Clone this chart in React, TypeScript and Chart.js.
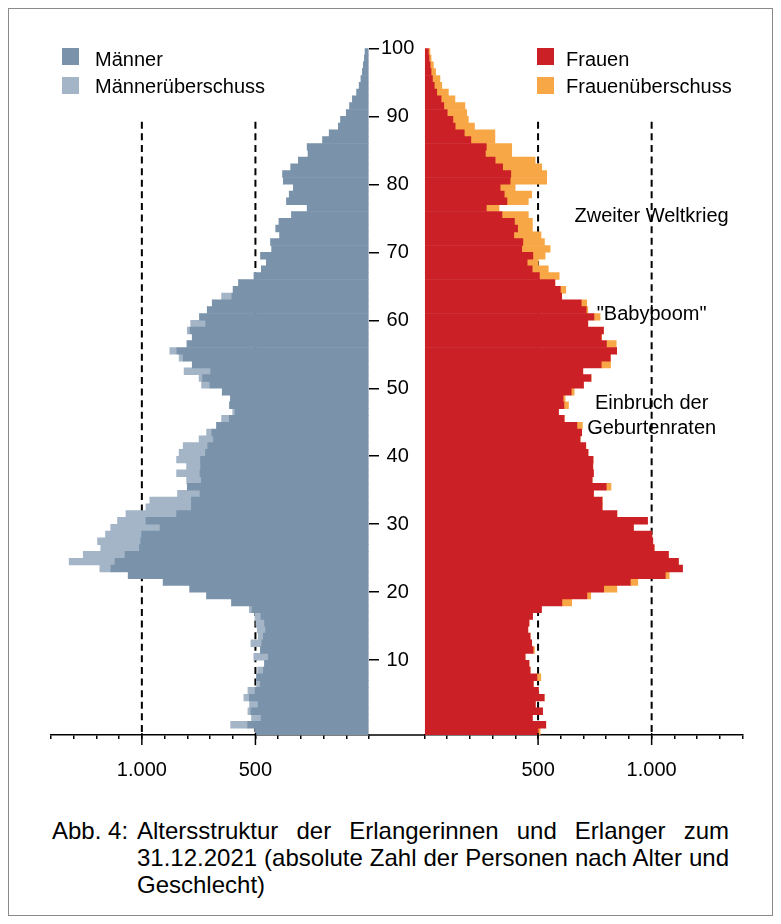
import React, { useEffect, useRef } from 'react';
import { Chart, registerables } from 'chart.js';

Chart.register(...registerables);

const FONT = '"Liberation Sans", Arial, Helvetica, sans-serif';

// Ages 0..100 (index = age)
const ages: number[] = Array.from({ length: 101 }, (_, i) => i);

// Total number of men per age (0..100)
const men: number[] = [
  500, 609, 517, 533, 526, 551, 533, 495, 495, 490,
  460, 507, 478, 520, 487, 492, 498, 502, 527, 605,
  715, 789, 906, 1060, 1185, 1320, 1258, 1181, 1195, 1160,
  1137, 1107, 1070, 982, 965, 843, 800, 803, 847, 803,
  847, 836, 818, 748, 715, 671, 649, 600, 614, 610,
  646, 737, 748, 814, 778, 836, 877, 801, 778, 800,
  785, 746, 712, 690, 649, 598, 575, 506, 474, 452,
  477, 428, 433, 393, 410, 396, 341, 272, 363, 351,
  333, 377, 380, 344, 311, 268, 272, 204, 175, 135,
  125, 100, 85, 73, 54, 43, 35, 29, 25, 20,
  17,
];

// Total number of women per age (0..100)
const women: number[] = [
  509, 534, 475, 520, 488, 527, 502, 479, 512, 465,
  460, 443, 484, 472, 465, 455, 460, 476, 515, 648,
  732, 847, 939, 1077, 1136, 1118, 1074, 1011, 1005, 1001,
  920, 982, 847, 782, 782, 744, 821, 738, 744, 741,
  742, 720, 710, 685, 692, 695, 615, 590, 634, 619,
  659, 700, 733, 697, 819, 818, 846, 844, 780, 788,
  719, 773, 719, 714, 604, 622, 574, 593, 545, 501,
  531, 553, 528, 513, 475, 475, 457, 328, 457, 472,
  399, 538, 538, 516, 487, 384, 384, 310, 310, 220,
  193, 186, 178, 134, 105, 76, 68, 49, 39, 29,
  24,
];

const ageTicks: number[] = [10, 20, 30, 40, 50, 60, 70, 80, 90, 100];
const xTicks: number[] = [0, 100, 200, 300, 400, 500, 600, 700, 800, 900, 1000, 1100, 1200, 1300, 1400];
const xMajor: number[] = [500, 1000];
const xMajorLabels: string[] = ['500', '1.000'];

const annotationTexts: string[] = ['Zweiter Weltkrieg', '"Babyboom"', 'Einbruch der', 'Geburtenraten'];
const annotationAges: number[] = [75.3, 60.9, 47.7, 44.1];
const annotationValue = 1000;
const gridTopAge = 89.2;

const MEN = '#7a93ab';
const MEN_X = '#a3b5c6';
const WOMEN = '#cc2027';
const WOMEN_X = '#f8a746';

const common = ages.map((a) => Math.min(men[a], women[a]));
const menExcess = ages.map((a) => Math.max(0, men[a] - women[a]));
const womenExcess = ages.map((a) => Math.max(0, women[a] - men[a]));

const tickLabel = (v: number) => {
  const i = xMajor.indexOf(v);
  return i >= 0 ? xMajorLabels[i] : '';
};

const decor = (side: 'left' | 'right') => ({
  id: 'decor-' + side,
  beforeDatasetsDraw(chart: any) {
    const { ctx, scales, chartArea } = chart;
    const x = scales.x;
    const y = scales.y;
    ctx.save();
    ctx.strokeStyle = '#000';
    ctx.lineWidth = 2;
    ctx.setLineDash([7, 4.6]);
    const top = y.getPixelForValue(gridTopAge);
    for (const v of xMajor) {
      const px = x.getPixelForValue(v);
      ctx.beginPath();
      ctx.moveTo(px, top);
      ctx.lineTo(px, chartArea.bottom);
      ctx.stroke();
    }
    ctx.restore();
  },
  afterDraw(chart: any) {
    const { ctx, scales, chartArea } = chart;
    const x = scales.x;
    const y = scales.y;
    ctx.save();
    ctx.strokeStyle = '#000';
    ctx.lineWidth = 1.5;
    for (const v of xMajor) {
      const px = x.getPixelForValue(v);
      ctx.beginPath();
      ctx.moveTo(px, chartArea.bottom - 2);
      ctx.lineTo(px, chartArea.bottom + 10);
      ctx.stroke();
    }
    if (side === 'left') {
      ctx.beginPath();
      ctx.moveTo(chartArea.right, chartArea.bottom);
      ctx.lineTo(chart.width, chartArea.bottom);
      ctx.stroke();
    } else {
      ctx.fillStyle = '#000';
      ctx.font = '20px ' + FONT;
      ctx.textAlign = 'center';
      ctx.textBaseline = 'middle';
      annotationTexts.forEach((t, i) => {
        ctx.fillText(t, x.getPixelForValue(annotationValue), y.getPixelForValue(annotationAges[i]));
      });
    }
    ctx.restore();
  },
});

function makeConfig(side: 'left' | 'right'): any {
  const isLeft = side === 'left';
  const excess = isLeft ? menExcess : womenExcess;
  return {
    type: 'bar',
    data: {
      datasets: [
        {
          label: isLeft ? 'Männer' : 'Frauen',
          data: ages.map((a) => ({ x: common[a], y: a - 0.5 })),
          backgroundColor: isLeft ? MEN : WOMEN,
        },
        {
          label: isLeft ? 'Männerüberschuss' : 'Frauenüberschuss',
          data: ages.map((a) => ({ x: excess[a], y: a - 0.5 })),
          backgroundColor: isLeft ? MEN_X : WOMEN_X,
        },
      ],
    },
    options: {
      indexAxis: 'y',
      animation: false,
      responsive: false,
      maintainAspectRatio: false,
      layout: {
        padding: isLeft
          ? { left: 42, right: 11, top: 39.3, bottom: 9 }
          : { left: 0.5, right: 29.5, top: 39.3, bottom: 9 },
      },
      plugins: { legend: { display: false }, tooltip: { enabled: false } },
      datasets: { bar: { barPercentage: 1, categoryPercentage: 1, borderWidth: 0 } },
      scales: {
        x: {
          type: 'linear',
          position: 'bottom',
          reverse: isLeft,
          min: 0,
          max: 1400,
          stacked: true,
          offset: false,
          afterBuildTicks: (s: any) => {
            s.ticks = xTicks.map((v) => ({ value: v }));
          },
          afterFit: (s: any) => {
            s.height = 47;
          },
          ticks: {
            autoSkip: false,
            maxRotation: 0,
            padding: 0,
            color: '#000',
            font: { size: 20, family: FONT, lineHeight: 3.1 },
            callback: (v: number) => tickLabel(v),
          },
          grid: {
            display: true,
            offset: false,
            drawOnChartArea: false,
            drawTicks: true,
            tickLength: 4,
            color: '#000',
            lineWidth: 1.5,
          },
          border: { display: true, color: '#000', width: 1.5 },
        },
        y: {
          type: 'linear',
          position: 'right',
          display: isLeft,
          min: -1,
          max: 100,
          stacked: true,
          offset: false,
          afterBuildTicks: (s: any) => {
            s.ticks = ageTicks.map((v) => ({ value: v }));
          },
          afterFit: (s: any) => {
            s.width = isLeft ? 45 : 0;
          },
          ticks: {
            padding: 2,
            crossAlign: 'center',
            color: '#000',
            font: { size: 20, family: FONT },
            callback: (v: number) => String(v),
          },
          grid: {
            display: true,
            offset: false,
            drawOnChartArea: false,
            drawTicks: true,
            tickLength: 10,
            color: '#000',
            lineWidth: 1.5,
          },
          border: { display: false },
        },
      },
    },
    plugins: [decor(side)],
  };
}

const legendText: React.CSSProperties = {
  position: 'absolute',
  fontSize: 20,
  lineHeight: '24px',
  color: '#000',
  whiteSpace: 'nowrap',
};

const square = (left: number, top: number, color: string): React.CSSProperties => ({
  position: 'absolute',
  left,
  top,
  width: 17,
  height: 17,
  background: color,
});

export default function App() {
  const leftRef = useRef<HTMLCanvasElement | null>(null);
  const rightRef = useRef<HTMLCanvasElement | null>(null);

  useEffect(() => {
    Chart.defaults.font.family = FONT;
    Chart.defaults.font.size = 20;
    Chart.defaults.color = '#000';
    const left = new Chart(leftRef.current as HTMLCanvasElement, makeConfig('left'));
    const right = new Chart(rightRef.current as HTMLCanvasElement, makeConfig('right'));
    return () => {
      left.destroy();
      right.destroy();
    };
  }, []);

  const capLine: React.CSSProperties = {
    height: 27,
    lineHeight: '27px',
    fontSize: 24,
    textAlign: 'justify',
    whiteSpace: 'nowrap',
  };

  return (
    <div
      style={{
        position: 'relative',
        width: 765,
        height: 908,
        border: '1px solid #8a8a8a',
        boxSizing: 'border-box',
        background: '#fff',
        fontFamily: FONT,
        color: '#000',
        overflow: 'hidden',
      }}
    >
      <canvas
        ref={leftRef}
        width={416}
        height={782}
        style={{ position: 'absolute', left: 0, top: 0, width: 416, height: 782 }}
      />
      <canvas
        ref={rightRef}
        width={348}
        height={782}
        style={{ position: 'absolute', left: 415, top: 0, width: 348, height: 782 }}
      />

      <div style={square(53, 39, MEN)} />
      <div style={{ ...legendText, left: 86, top: 38 }}>Männer</div>
      <div style={square(53, 68, MEN_X)} />
      <div style={{ ...legendText, left: 86, top: 65 }}>Männerüberschuss</div>

      <div style={square(528, 39, WOMEN)} />
      <div style={{ ...legendText, left: 557, top: 38 }}>Frauen</div>
      <div style={square(528, 68, WOMEN_X)} />
      <div style={{ ...legendText, left: 557, top: 65 }}>Frauenüberschuss</div>

      <div style={{ position: 'absolute', left: 43, top: 808, fontSize: 24, lineHeight: '27px' }}>Abb. 4:</div>
      <div style={{ position: 'absolute', left: 128, top: 808, width: 592 }}>
        <div style={{ ...capLine, textAlignLast: 'justify' } as React.CSSProperties}>
          Altersstruktur der Erlangerinnen und Erlanger zum
        </div>
        <div style={{ ...capLine, textAlignLast: 'justify' } as React.CSSProperties}>
          31.12.2021 (absolute Zahl der Personen nach Alter und
        </div>
        <div style={capLine}>Geschlecht)</div>
      </div>
    </div>
  );
}
